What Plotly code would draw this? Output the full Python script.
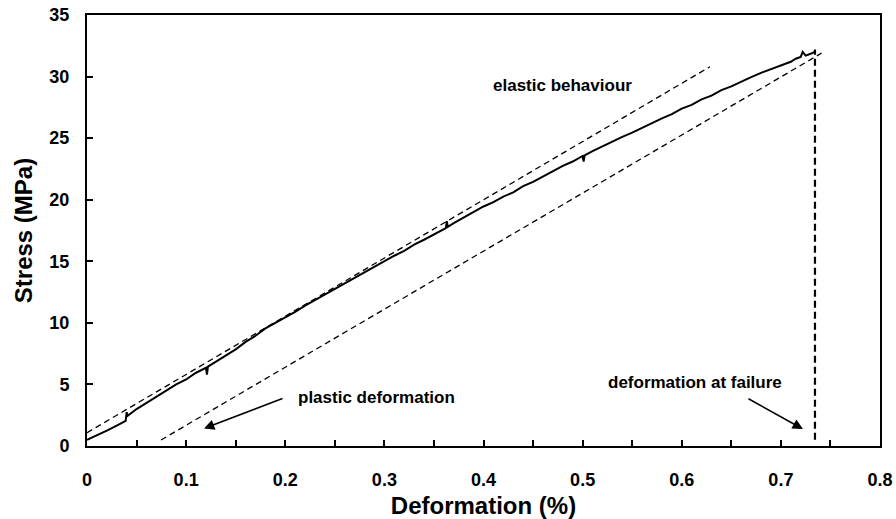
import plotly.graph_objects as go

# Measured stress-strain curve
deformation = [0, 0.01, 0.02, 0.03, 0.039, 0.040, 0.041, 0.05, 0.06, 0.07, 0.08, 0.09,
               0.10, 0.11, 0.12, 0.121, 0.122, 0.13, 0.14, 0.15, 0.16, 0.17, 0.18, 0.19,
               0.20, 0.21, 0.22, 0.23, 0.24, 0.25, 0.26, 0.27, 0.28, 0.29, 0.30, 0.31,
               0.32, 0.33, 0.34, 0.35, 0.362, 0.363, 0.364, 0.37, 0.38, 0.39, 0.40, 0.41,
               0.42, 0.43, 0.44, 0.45, 0.46, 0.47, 0.48, 0.49, 0.50, 0.501, 0.502, 0.51,
               0.52, 0.53, 0.54, 0.55, 0.56, 0.57, 0.58, 0.59, 0.60, 0.61, 0.62, 0.63,
               0.64, 0.65, 0.66, 0.67, 0.68, 0.69, 0.70, 0.71, 0.715, 0.72, 0.722, 0.725,
               0.73, 0.734]
stress = [0.5, 0.85, 1.25, 1.65, 2.05, 2.75, 2.45, 3.0, 3.5, 4.05, 4.5, 5.0,
          5.4, 5.95, 6.35, 5.8, 6.45, 6.85, 7.4, 7.85, 8.45, 8.95, 9.55, 10.0,
          10.4, 10.9, 11.4, 11.85, 12.3, 12.75, 13.25, 13.65, 14.15, 14.55, 15.0, 15.45,
          15.85, 16.35, 16.75, 17.2, 17.7, 18.25, 17.8, 18.1, 18.55, 19.0, 19.45, 19.8,
          20.25, 20.6, 21.1, 21.45, 21.9, 22.3, 22.75, 23.1, 23.55, 23.1, 23.6, 23.95,
          24.35, 24.7, 25.1, 25.45, 25.85, 26.2, 26.6, 26.95, 27.4, 27.7, 28.15, 28.45,
          28.9, 29.2, 29.6, 29.95, 30.3, 30.6, 30.95, 31.2, 31.45, 31.6, 32.0, 31.7,
          31.85, 32.0]

# Guide lines
elastic_x = [0.0, 0.6285]
elastic_y = [1.08, 30.8]
plastic_x = [0.0747, 0.741]
plastic_y = [0.49, 31.9]
failure_x = [0.7344, 0.7344]
failure_y = [0.5, 32.2]

x_tickvals = [0, 0.05, 0.1, 0.15, 0.2, 0.25, 0.3, 0.35, 0.4, 0.45, 0.5, 0.55, 0.6, 0.65, 0.7, 0.75, 0.8]
x_ticktext = ["0", "", "0.1", "", "0.2", "", "0.3", "", "0.4", "", "0.5", "", "0.6", "", "0.7", "", "0.8"]
y_tickvals = [0, 5, 10, 15, 20, 25, 30, 35]

FONT = "Liberation Sans, Arial, sans-serif"

fig = go.Figure()
fig.add_trace(go.Scatter(x=elastic_x, y=elastic_y, mode="lines",
                         line=dict(color="black", width=1.3, dash="6px,4px"), hoverinfo="skip"))
fig.add_trace(go.Scatter(x=plastic_x, y=plastic_y, mode="lines",
                         line=dict(color="black", width=1.3, dash="6px,4px"), hoverinfo="skip"))
fig.add_trace(go.Scatter(x=failure_x, y=failure_y, mode="lines",
                         line=dict(color="black", width=2.2, dash="7px,4px"), hoverinfo="skip"))
fig.add_trace(go.Scatter(x=deformation, y=stress, mode="lines",
                         line=dict(color="black", width=2)))

ann_font = dict(family=FONT, size=17, color="black", weight="bold")
fig.add_annotation(x=0.480, y=29.24, text="elastic behaviour", showarrow=False, font=ann_font)
fig.add_annotation(x=0.2916, y=3.9, text="plastic deformation", showarrow=False, font=ann_font)
fig.add_annotation(x=0.6131, y=5.12, text="deformation at failure", showarrow=False, font=ann_font)

fig.add_annotation(x=0.118, y=1.42, ax=0.1987, ay=3.9, axref="x", ayref="y", text="",
                   showarrow=True, arrowhead=2, arrowsize=1.3, arrowwidth=1.6, arrowcolor="black")
fig.add_annotation(x=0.7223, y=1.38, ax=0.6658, ay=3.9, axref="x", ayref="y", text="",
                   showarrow=True, arrowhead=2, arrowsize=1.3, arrowwidth=1.6, arrowcolor="black")

axis_common = dict(showgrid=False, zeroline=False, showline=True, linecolor="black", linewidth=2,
                   mirror=True, ticks="inside", ticklen=6, tickwidth=2, tickcolor="black",
                   automargin=False,
                   tickfont=dict(family=FONT, size=18, color="black", weight="bold"))

fig.update_xaxes(range=[0, 0.8], tickmode="array", tickvals=x_tickvals, ticktext=x_ticktext,
                 ticklabelstandoff=16,
                 title=dict(text="Deformation (%)", standoff=12,
                            font=dict(family=FONT, size=24, color="black", weight="bold")),
                 **axis_common)
fig.update_yaxes(range=[0, 35], tickmode="array", tickvals=y_tickvals,
                 ticklabelstandoff=12,
                 title=dict(text="Stress (MPa)", standoff=10,
                            font=dict(family=FONT, size=24, color="black", weight="bold")),
                 **axis_common)

fig.update_layout(width=896, height=519, showlegend=False,
                  margin=dict(l=87, r=16, t=15, b=73),
                  plot_bgcolor="white", paper_bgcolor="white")

fig.write_html("out.html")
